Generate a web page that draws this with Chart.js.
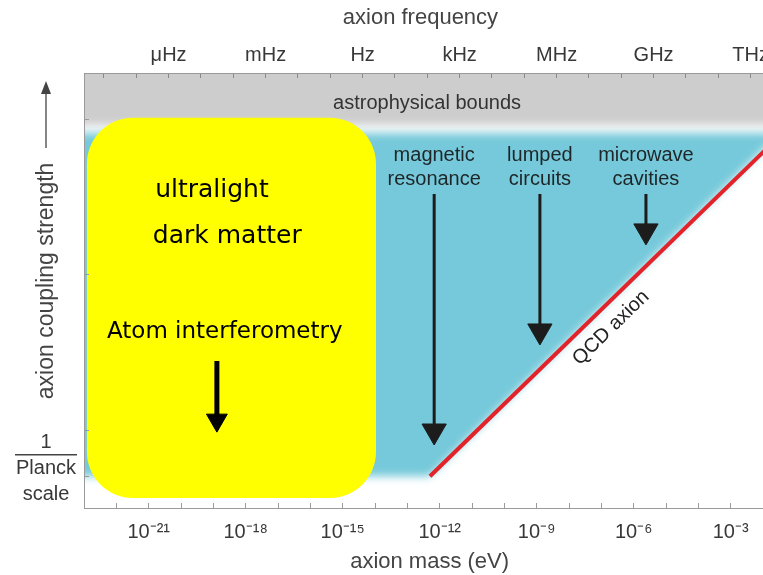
<!DOCTYPE html>
<html>
<head>
<meta charset="utf-8">
<script src="https://cdn.jsdelivr.net/npm/chart.js@4.4.1/dist/chart.umd.min.js"></script>
<style>
  html, body { margin: 0; padding: 0; background: #fff; }
  #wrap { width: 763px; height: 575px; }
</style>
</head>
<body>
<div id="wrap"><canvas id="axionChart" width="763" height="575"></canvas></div>
<script>
// x is log10(axion mass / eV)
const massMin = -23
const massMax = -2
const massLabelExps = [-21, -18, -15, -12, -9, -6, -3]

// top axis: frequency units (exponent of Hz)
const freqUnitExps = [-6, -3, 0, 3, 6, 9, 12]
const freqUnits = ['μHz', 'mHz', 'Hz', 'kHz', 'MHz', 'GHz', 'THz']
const hEvSeconds = 4.1357e-15 // planck constant in eV s, f = m / h

// y is a schematic coupling strength, 0..100
const planckCoupling = 7.2
const couplingTicks = [planckCoupling, 17.9, 53.6, 89.2]

// shaded regions (closed shapes)
const boundsMass = [-24, -1, -1, -24]
const boundsCoupling = [88, 88, 115, 115]
const reachMass = [-24, -1.46, -12.3, -24]
const reachCoupling = [86.2, 86.2, 7.3, 7.3]

// QCD axion line
const qcdMass = [-12.3, -1.46]
const qcdCoupling = [7.3, 85.7]

// experiments reaching down in coupling
const probeNames = [['magnetic', 'resonance'], ['lumped', 'circuits'], ['microwave', 'cavities']]
const probeMass = [-12.17, -8.9, -5.62]
const probeFrom = [72.2, 72.2, 72.2]
const probeTo = [17.7, 40.7, 63.7]
const probeLabelCoupling = [81.1, 75.6]

// ultralight dark matter box
const ultralightMass = [-22.91, -13.97]
const ultralightCoupling = [2.3, 89.7]
const ultralightText = ['ultralight', 'dark matter', 'Atom interferometry']
const ultralightTextMass = [-20.8, -20.87, -22.29]
const ultralightTextCoupling = [73.1, 62.5, 40.5]
const atomMass = -18.89
const atomFrom = 33.8
const atomTo = 20.2

const family = '"Liberation Sans", Arial, Helvetica, sans-serif'
const axisGray = '#9a9a9a'

const logH = Math.log10(hEvSeconds)
const freqDecades = []
for (let f = Math.ceil(massMin - logH); f <= Math.floor(massMax - logH); f++) freqDecades.push(f)
const massDecades = []
for (let m = massMin; m <= massMax; m++) massDecades.push(m)

const supMap = { '-': '⁻', '0': '⁰', '1': '¹', '2': '²', '3': '³', '4': '⁴', '5': '⁵', '6': '⁶', '7': '⁷', '8': '⁸', '9': '⁹' }
function sup(n) {
    return String(n).split('').map(c => supMap[c]).join('')
}

function points(xs, ys) {
    return xs.map((x, i) => ({ x: x, y: ys[i] }))
}

function arrowDataset(m, from, to, width, head, color) {
    return {
        data: [{ x: m, y: from }, { x: m, y: to }],
        borderColor: color,
        borderWidth: width,
        pointRadius: [0, head],
        pointStyle: 'triangle',
        rotation: 180,
        pointBackgroundColor: color,
        pointBorderColor: color,
        pointBorderWidth: 1,
        fill: false,
        order: 3
    }
}

const datasets = [
    {
        // astrophysical bounds
        data: points(boundsMass, boundsCoupling),
        backgroundColor: '#cdcdcd',
        borderWidth: 0,
        pointRadius: 0,
        fill: 'shape',
        order: 6
    },
    {
        // region reachable by experiments
        data: points(reachMass, reachCoupling),
        backgroundColor: '#76c9da',
        borderWidth: 0,
        pointRadius: 0,
        fill: 'shape',
        order: 5
    },
    {
        data: points(qcdMass, qcdCoupling),
        borderColor: '#e2232a',
        borderWidth: 4,
        pointRadius: 0,
        fill: false,
        order: 4
    }
]
probeMass.forEach((m, i) => datasets.push(arrowDataset(m, probeFrom[i], probeTo[i], 3, 14, '#1c1c1c')))
const atomIndex = datasets.length
const atomArrow = arrowDataset(atomMass, atomFrom, atomTo, 5, 12, '#000')
atomArrow.order = 0
datasets.push(atomArrow)

function drawUltralight(chart) {
    const { ctx, scales: { x, y } } = chart
    const x0 = x.getPixelForValue(ultralightMass[0])
    const x1 = x.getPixelForValue(ultralightMass[1])
    const yTop = y.getPixelForValue(ultralightCoupling[1])
    const yBot = y.getPixelForValue(ultralightCoupling[0])
    ctx.save()
    ctx.fillStyle = '#ffff00'
    ctx.beginPath()
    ctx.roundRect(x0, yTop, x1 - x0, yBot - yTop, 46)
    ctx.fill()
    ctx.fillStyle = '#000'
    ctx.textAlign = 'left'
    ctx.textBaseline = 'middle'
    ultralightText.forEach((t, i) => {
        ctx.font = (i < 2 ? 25 : 23) + 'px "DejaVu Sans", Verdana, sans-serif'
        ctx.fillText(t, x.getPixelForValue(ultralightTextMass[i]), y.getPixelForValue(ultralightTextCoupling[i]))
    })
    ctx.restore()
}

const sketchPlugin = {
    id: 'sketch',
    // soft edges on the shaded regions (filler draws them in beforeDatasetsDraw)
    beforeDraw(chart) {
        chart.ctx.save()
        chart.ctx.filter = 'blur(4px)'
    },
    beforeDatasetsDraw(chart) {
        chart.ctx.restore()
    },
    beforeDatasetDraw(chart, args) {
        if (args.index === atomIndex) drawUltralight(chart)
    },
    afterDatasetsDraw(chart) {
        const { ctx, scales: { x, y } } = chart
        ctx.save()
        ctx.textAlign = 'center'
        ctx.textBaseline = 'middle'
        ctx.font = '20px ' + family
        ctx.fillStyle = '#333'
        ctx.fillText('astrophysical bounds', x.getPixelForValue(-12.39), y.getPixelForValue(92.9))

        ctx.fillStyle = '#1e2628'
        probeNames.forEach((lines, i) => {
            lines.forEach((t, j) => {
                ctx.fillText(t, x.getPixelForValue(probeMass[i]), y.getPixelForValue(probeLabelCoupling[j]))
            })
        })

        // label along the QCD line
        const ax = x.getPixelForValue(qcdMass[0]), ay = y.getPixelForValue(qcdCoupling[0])
        const bx = x.getPixelForValue(qcdMass[1]), by = y.getPixelForValue(qcdCoupling[1])
        ctx.translate(x.getPixelForValue(-6.7), y.getPixelForValue(41.4))
        ctx.rotate(Math.atan2(by - ay, bx - ax))
        ctx.fillStyle = '#222'
        ctx.fillText('QCD axion', 0, 0)
        ctx.restore()
    },
    afterDraw(chart) {
        const { ctx, chartArea } = chart
        const yScale = chart.scales.y
        ctx.save()
        ctx.strokeStyle = '#444'
        ctx.fillStyle = '#444'
        // arrow above the y title
        const ax = yScale.left + 46
        ctx.lineWidth = 1.3
        ctx.beginPath()
        ctx.moveTo(ax, chartArea.top + 75)
        ctx.lineTo(ax, chartArea.top + 18)
        ctx.stroke()
        ctx.beginPath()
        ctx.moveTo(ax, chartArea.top + 8)
        ctx.lineTo(ax - 5, chartArea.top + 21)
        ctx.lineTo(ax + 5, chartArea.top + 21)
        ctx.closePath()
        ctx.fill()
        // fraction bar of 1 / Planck scale
        const py = yScale.getPixelForValue(planckCoupling) - 22
        ctx.lineWidth = 1.6
        ctx.beginPath()
        ctx.moveTo(yScale.left + 15, py)
        ctx.lineTo(yScale.left + 77, py)
        ctx.stroke()
        ctx.restore()
    }
}

const axionChart = new Chart(document.getElementById('axionChart'), {
    type: 'line',
    data: { datasets: datasets },
    options: {
        responsive: false,
        devicePixelRatio: 1,
        animation: false,
        events: [],
        layout: { padding: 0, autoPadding: false },
        plugins: {
            legend: { display: false },
            tooltip: { enabled: false },
            filler: { drawTime: 'beforeDatasetsDraw' }
        },
        scales: {
            x: {
                type: 'linear',
                position: 'bottom',
                min: massMin,
                max: massMax,
                afterBuildTicks: s => { s.ticks = massDecades.map(v => ({ value: v })) },
                ticks: {
                    autoSkip: false,
                    maxRotation: 0,
                    padding: 17,
                    color: '#383838',
                    font: { family: family, size: 20 },
                    z: 1,
                    callback: v => massLabelExps.includes(v) ? '10' + sup(v) : ''
                },
                grid: { drawOnChartArea: false, tickLength: -5, color: axisGray, z: 1 },
                border: { color: axisGray, z: 1 },
                title: {
                    display: true,
                    text: '  axion mass (eV)',
                    color: '#444',
                    font: { family: family, size: 22 },
                    padding: { top: 0, bottom: 0 }
                },
                afterFit: s => { s.height = 67; s.paddingLeft = 0; s.paddingRight = 0 }
            },
            x2: {
                type: 'linear',
                position: 'top',
                min: massMin,
                max: massMax,
                afterBuildTicks: s => { s.ticks = freqDecades.map(f => ({ value: f + logH })) },
                ticks: {
                    autoSkip: false,
                    maxRotation: 0,
                    padding: 11,
                    color: '#383838',
                    font: { family: family, size: 20 },
                    z: 1,
                    callback: (v, i) => {
                        const k = freqUnitExps.indexOf(freqDecades[i])
                        return k >= 0 ? freqUnits[k] : ''
                    }
                },
                grid: { drawOnChartArea: false, tickLength: -5, color: '#8a8a8a', z: 1 },
                border: { color: axisGray, z: 1 },
                title: {
                    display: true,
                    text: 'axion frequency ',
                    color: '#444',
                    font: { family: family, size: 22 },
                    padding: { top: 5, bottom: 0 }
                },
                afterFit: s => { s.height = 73; s.paddingLeft = 0; s.paddingRight = 0 }
            },
            y: {
                type: 'linear',
                position: 'left',
                min: 0,
                max: 100,
                afterBuildTicks: s => { s.ticks = couplingTicks.map(v => ({ value: v })) },
                ticks: {
                    autoSkip: false,
                    padding: 13,
                    crossAlign: 'center',
                    labelOffset: -8,
                    color: '#383838',
                    font: { family: family, size: 20, lineHeight: '26px' },
                    z: 1,
                    callback: v => v === planckCoupling ? ['1', 'Planck', 'scale'] : ''
                },
                grid: { drawOnChartArea: false, tickLength: -5, color: axisGray, z: 1 },
                border: { color: axisGray, z: 1 },
                title: {
                    display: true,
                    text: '   axion coupling strength',
                    color: '#444',
                    font: { family: family, size: 23 },
                    padding: { top: 33, bottom: 0 }
                },
                afterFit: s => { s.width = 84; s.paddingTop = 0; s.paddingBottom = 0 }
            }
        }
    },
    plugins: [sketchPlugin]
});
</script>
</body>
</html>
